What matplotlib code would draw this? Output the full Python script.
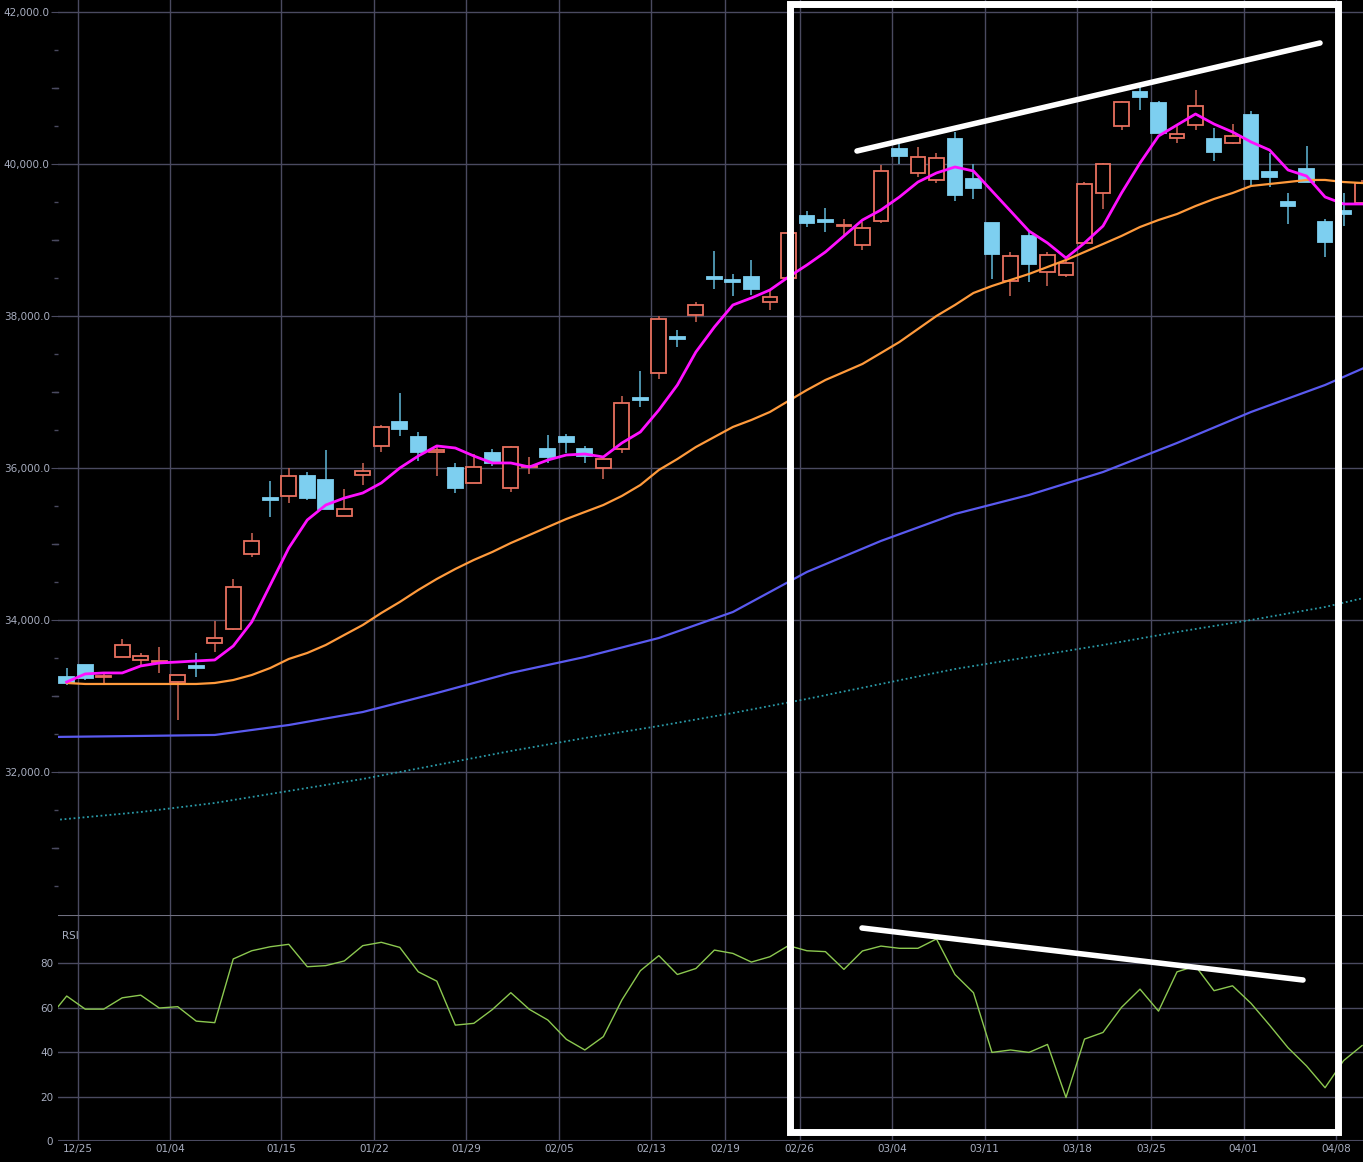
import numpy as np
import matplotlib
matplotlib.use("Agg")
import matplotlib.pyplot as plt
from matplotlib.lines import Line2D
from matplotlib.patches import Rectangle
from matplotlib.ticker import FuncFormatter, MultipleLocator

# daily candles (open, high, low, close), index 0 = 12/22
opens = [33250, 33408, 33250, 33513, 33474, 33447, 33184, 33395, 33697, 33882,
         34868, 35605, 35632, 35895, 35842, 35368, 35908, 36290, 36605, 36408,
         36211, 36000, 35803, 36197, 35737, 36013, 36250, 36408, 36250, 36000,
         36250, 36921, 37250, 37724, 38013, 38513, 38474, 38513, 38184, 38500,
         39316, 39263, 39184, 38934, 39250, 40197, 39882, 39790, 40329, 39803,
         39224, 38461, 39053, 38579, 38540, 38961, 39618, 40500, 40947, 40803,
         40342, 40513, 40329, 40276, 40645, 39895, 39500, 39934, 39237, 39382,
         39487]
highs = [33368, 33408, 33303, 33750, 33566, 33645, 33276, 33566, 33987, 34540,
         35145, 35829, 36000, 35948, 36237, 35724, 36066, 36566, 36987, 36474,
         36290, 36066, 36184, 36250, 36290, 36145, 36434, 36447, 36290, 36158,
         36947, 37276, 38000, 37816, 38184, 38855, 38553, 38737, 38342, 39158,
         39382, 39421, 39276, 39237, 39987, 40276, 40224, 40145, 40421, 40000,
         39224, 38842, 39132, 38842, 38737, 39763, 40013, 40829, 41013, 40829,
         40526, 40974, 40474, 40526, 40697, 40145, 39618, 40237, 39276, 39618,
         39790]
lows = [33145, 33210, 33171, 33513, 33395, 33303, 32684, 33250, 33579, 33868,
        34829, 35355, 35540, 35579, 35461, 35368, 35776, 36211, 36421, 36092,
        35895, 35671, 35803, 36026, 35684, 35921, 36066, 36197, 36066, 35855,
        36197, 36803, 37171, 37592, 37921, 38355, 38263, 38276, 38079, 38500,
        39171, 39105, 39066, 38868, 39224, 40000, 39829, 39750, 39513, 39540,
        38487, 38263, 38447, 38395, 38513, 38947, 39408, 40447, 40711, 40408,
        40276, 40447, 40040, 40263, 39697, 39697, 39210, 39763, 38776, 39184,
        39461]
closes = [33171, 33237, 33263, 33671, 33526, 33461, 33276, 33368, 33763, 34434,
          35039, 35579, 35895, 35605, 35461, 35461, 35961, 36540, 36513, 36211,
          36237, 35737, 36013, 36066, 36277, 36026, 36145, 36342, 36158, 36118,
          36855, 36895, 37961, 37697, 38145, 38487, 38447, 38355, 38250, 39092,
          39224, 39237, 39197, 39158, 39908, 40105, 40092, 40079, 39592, 39684,
          38816, 38790, 38684, 38803, 38697, 39737, 40000, 40816, 40882, 40408,
          40395, 40763, 40158, 40368, 39803, 39829, 39447, 39763, 38974, 39342,
          39750]

ma5 = [33184, 33290, 33303, 33303, 33395, 33434, 33447, 33461, 33474, 33658,
       33974, 34461, 34947, 35316, 35513, 35605, 35671, 35803, 36000, 36158,
       36290, 36263, 36158, 36066, 36066, 36013, 36105, 36171, 36184, 36145,
       36329, 36474, 36763, 37092, 37526, 37855, 38145, 38237, 38342, 38513,
       38671, 38842, 39053, 39263, 39395, 39566, 39763, 39882, 39961, 39908,
       39645, 39382, 39118, 38961, 38763, 38961, 39184, 39618, 40013, 40368,
       40513, 40658, 40526, 40421, 40290, 40184, 39921, 39842, 39566, 39474,
       39474]
ma25 = [33171, 33158, 33158, 33158, 33158, 33158, 33158, 33158, 33171, 33210,
        33276, 33368, 33487, 33566, 33671, 33803, 33934, 34092, 34237, 34395,
        34540, 34671, 34790, 34895, 35013, 35118, 35224, 35329, 35421, 35513,
        35632, 35776, 35974, 36118, 36276, 36408, 36540, 36632, 36737, 36882,
        37026, 37158, 37263, 37369, 37513, 37658, 37829, 38000, 38145, 38303,
        38395, 38474, 38553, 38645, 38737, 38842, 38947, 39053, 39171, 39263,
        39342, 39447, 39540, 39618, 39711, 39737, 39763, 39790, 39790, 39763,
        39750]

# longer averages read at every 4th session
ma_pos = [-0.6, 4, 8, 12, 16, 20, 24, 28, 32, 36, 40, 44, 48, 52, 56, 60, 64, 68, 70.1]
ma75 = [32461, 32474, 32487, 32618, 32789, 33039, 33303, 33513, 33763, 34105,
        34632, 35040, 35395, 35645, 35947, 36329, 36737, 37092, 37316]
ma200 = [31368, 31473, 31592, 31750, 31908, 32092, 32276, 32447, 32605, 32776,
         32961, 33158, 33355, 33513, 33671, 33842, 34000, 34171, 34290]

rsi = [55, 65.3, 59.4, 59.4, 64.5, 65.7, 59.9, 60.5, 54.0, 53.3, 82.0,
       85.7, 87.5, 88.6, 78.5, 79.0, 81.1, 88.0, 89.5, 87.2, 76.2,
       72.0, 52.2, 53.0, 59.2, 66.8, 59.3, 54.5, 45.8, 41.0, 47.0,
       63.5, 76.7, 83.5, 75.0, 77.7, 86.0, 84.5, 80.6, 83.0, 88.0,
       85.7, 85.3, 77.3, 85.6, 87.8, 86.8, 86.8, 91.0, 75.0, 66.8,
       39.9, 41.0, 39.9, 43.5, 19.6, 45.9, 48.9, 60.2, 68.4, 58.5,
       76.2, 78.8, 67.7, 69.9, 62.0, 52.2, 42.0, 33.8, 24.0, 36.2, 43.0]

week_labels = ["12/25", "01/04", "01/15", "01/22", "01/29", "02/05", "02/13", "02/19",
               "02/26", "03/04", "03/11", "03/18", "03/25", "04/01", "04/08"]
week_start = [1, 6, 12, 17, 22, 27, 32, 36, 40, 45, 50, 55, 59, 64, 69]

BG = "#000000"
GRID = "#4a4a60"
TXT = "#a8aec0"
UP = "#e8705f"
DOWN = "#7dcff0"

fig = plt.figure(figsize=(13.63, 11.62), dpi=100, facecolor=BG)
ax = fig.add_axes([58 / 1363, 247 / 1162, 1305 / 1363, 915 / 1162], facecolor=BG)
ax2 = fig.add_axes([58 / 1363, 21 / 1162, 1305 / 1363, 226 / 1162], facecolor=BG, sharex=ax)

x = np.arange(len(opens))
xl = (-0.47, 70.05)
grid_x = [w - 0.4 for w in week_start]

for a in (ax, ax2):
    for gx in grid_x:
        a.axvline(gx, color=GRID, lw=1, zorder=0)
    for s in a.spines.values():
        s.set_visible(False)
    a.tick_params(colors=TXT, labelsize=7.5, length=0)

# candles
for i in x:
    o, h, l, c = opens[i], highs[i], lows[i], closes[i]
    up = c >= o
    col = UP if up else DOWN
    ax.vlines(i, l, h, color="#c06050" if up else "#5aaac8", lw=1.2, zorder=2)
    body = max(abs(c - o), 12)
    ax.add_patch(Rectangle((i - 0.4, min(o, c)), 0.8, body,
                           facecolor=BG if up else DOWN, edgecolor=col,
                           lw=1.3, zorder=3))

ax.plot(ma_pos, ma200, color="#2a9aa8", lw=1.3, ls=(0, (1, 1.5)), zorder=1)
ax.plot(ma_pos, ma75, color="#5a5af0", lw=1.6, zorder=1)
ax.plot(x, ma25, color="#ff9a3c", lw=1.6, zorder=4)
ax.plot(x, ma5, color="#ff10ff", lw=2, zorder=5)

ax.set_xlim(*xl)
ax.set_ylim(30118, 42158)
for yv in range(32000, 42001, 2000):
    ax.axhline(yv, color=GRID, lw=1, zorder=0)
ax.yaxis.set_major_locator(MultipleLocator(2000))
ax.yaxis.set_major_formatter(FuncFormatter(lambda v, p: f"{v:,.1f}"))
ax.yaxis.set_minor_locator(MultipleLocator(500))
ax.tick_params(axis="y", which="minor", length=3, color=GRID, width=1)
ax.tick_params(axis="y", which="major", length=5, color=GRID, pad=1)
ax.tick_params(axis="x", labelbottom=False)
# longer marks at the odd thousands
for yv in range(31000, 42000, 2000):
    ax.plot([-0.47 - 0.3, -0.47], [yv, yv], color=GRID, lw=1, clip_on=False)

ax2.plot(np.arange(-1, len(rsi) - 1), rsi, color="#8cc850", lw=1)
ax2.set_ylim(0, 101.8)
for yv in (20, 40, 60, 80):
    ax2.axhline(yv, color=GRID, lw=1, zorder=0)
ax2.set_yticks([0, 20, 40, 60, 80])
ax2.axhline(0, color=GRID, lw=1.5)
ax2.axhline(101.8, color="#707080", lw=1.5)
ax2.text(0.003, 0.93, "RSI", transform=ax2.transAxes, color=TXT, fontsize=7.5, va="top")
ax2.set_xticks(grid_x)
ax2.set_xticklabels(week_labels)
ax2.tick_params(axis="x", pad=2)
ax2.set_xlim(*xl)

# annotations drawn on the figure
def px(xp, yp):
    return xp / 1363, 1 - yp / 1162

x0, y0 = px(790, 1132)
x1, y1 = px(1338, 4)
fig.add_artist(Rectangle((x0, y0), x1 - x0, y1 - y0, transform=fig.transFigure,
                         fill=False, edgecolor="white", lw=5, zorder=10))
for (a, b), (c, d) in [((857, 151), (1320, 43)), ((862, 928), (1303, 980))]:
    p, q = px(a, b)
    r, s = px(c, d)
    fig.add_artist(Line2D([p, r], [q, s], transform=fig.transFigure,
                          color="white", lw=4, solid_capstyle="round", zorder=10))

fig.savefig("out.png", dpi=100, facecolor=BG)
